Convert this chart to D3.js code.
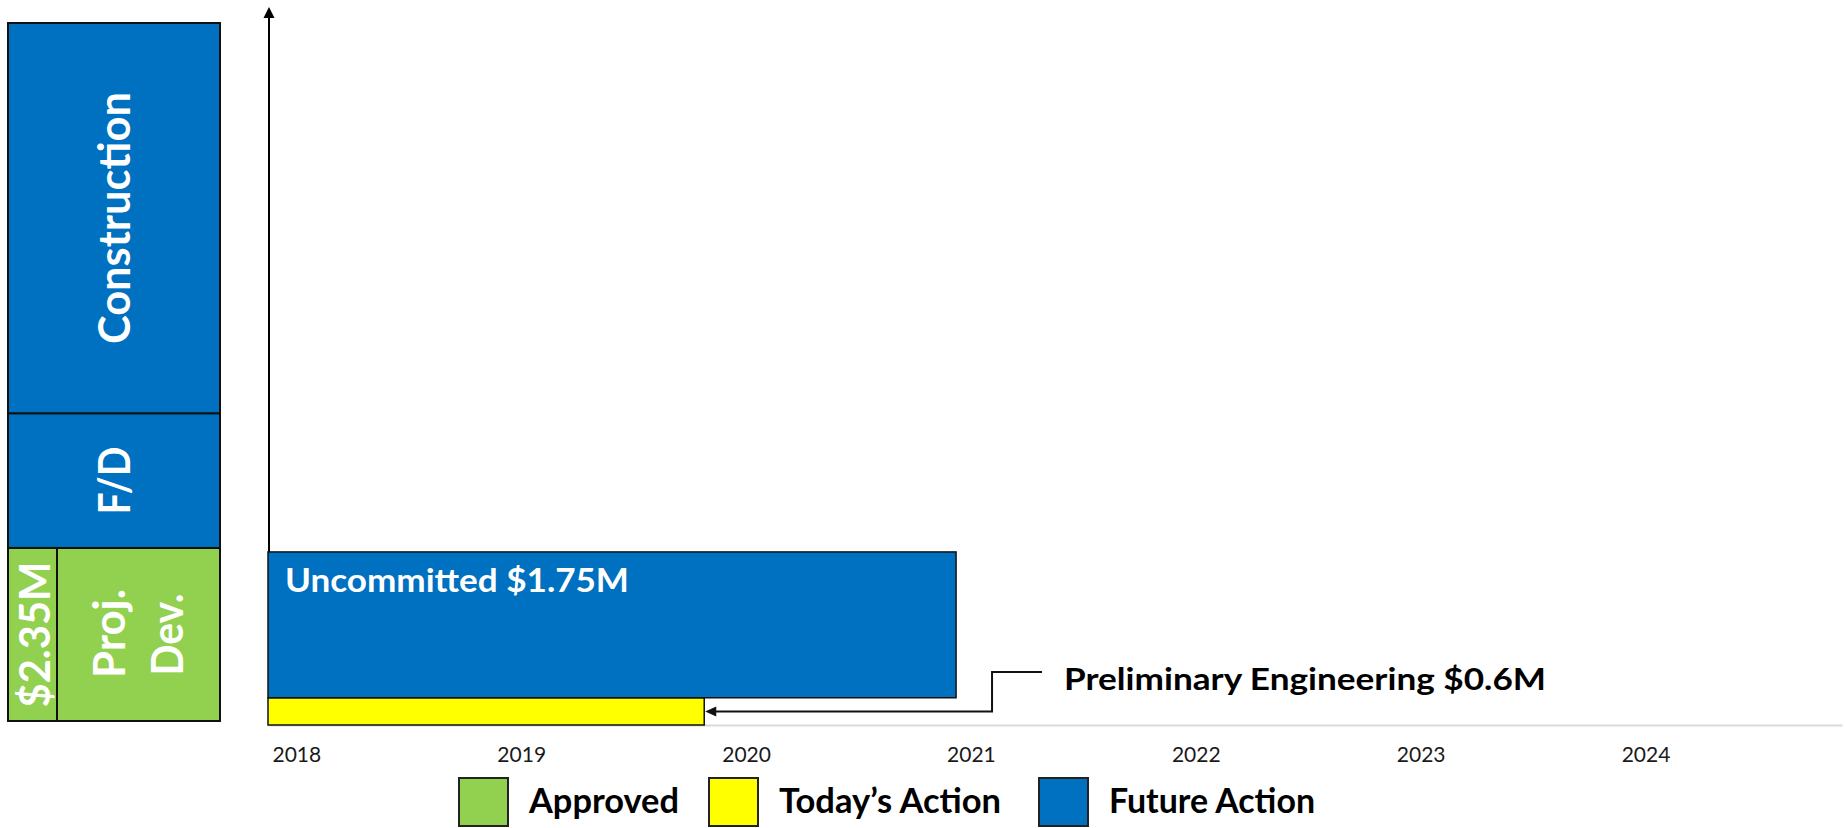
<!DOCTYPE html>
<html>
<head>
<meta charset="utf-8">
<script src="https://cdn.jsdelivr.net/npm/d3@7/dist/d3.min.js"></script>
<style>
  body { margin: 0; background: #fff; }
  svg { display: block; font-family: Lato, "Open Sans", sans-serif; }
</style>
</head>
<body>
<svg id="chart"></svg>
<script>
////////////////////////////// DATA //////////////////////////////

// left column: project phases, bottom to top (relative size in $M)
let phaseNames = ['Proj. Dev.', 'F/D', 'Construction'];
let phaseSizes = [2.35, 1.83, 5.30];
let phaseStatus = ['Approved', 'Future Action', 'Future Action'];
let approvedAmount = '$2.35M';

// timeline bars
let barStatus = ['Today\u2019s Action', 'Future Action'];
let barLabels = ['Preliminary Engineering $0.6M', 'Uncommitted $1.75M'];
let barStart = [2018, 2018];
let barEnd = [2019.94, 2021.06];
let barBottom = [0, 0.37];
let barTop = [0.37, 2.35];

let years = [2018, 2019, 2020, 2021, 2022, 2023, 2024];
let legendNames = ['Approved', 'Today\u2019s Action', 'Future Action'];

////////////////////////////// SETUP //////////////////////////////

let w = 1845;
let h = 828;

let svg = d3.select('#chart')
  .attr('width', w)
  .attr('height', h);

let color = d3.scaleOrdinal()
  .domain(legendNames)
  .range(['#92D050', '#FFFF00', '#0070C0']);

// text squeezed to the width of the original (narrow) face
function label(parent, str, size, width) {
  let t = parent.append('text')
    .text(str)
    .attr('font-size', size)
    .attr('font-weight', 700);
  if (width) {
    t.attr('textLength', width).attr('lengthAdjust', 'spacingAndGlyphs');
  }
  return t;
}

// vertical text, reading bottom to top, centred on (cx, cy)
function rotLabel(cx, cy, str, size, width) {
  let base = cx + size * 0.36;
  let g = svg.append('g')
    .attr('transform', `translate(${base}, ${cy}) rotate(-90)`);
  label(g, str, size, width)
    .attr('text-anchor', 'middle')
    .attr('fill', '#fff');
}

////////////////////////////// LEFT COLUMN //////////////////////////////

let colLeft = 8, colRight = 220, amtRight = 57;

let yLeft = d3.scaleLinear()
  .domain([0, d3.sum(phaseSizes)])
  .range([721, 23]);

let phases = phaseSizes.map((v, i) => ({
  name: phaseNames[i],
  status: phaseStatus[i],
  y0: d3.sum(phaseSizes.slice(0, i)),
  y1: d3.sum(phaseSizes.slice(0, i + 1)),
  x0: i === 0 ? amtRight : colLeft
}));

svg.selectAll('rect.phase')
  .data(phases)
  .enter()
  .append('rect')
  .attr('class', 'phase')
  .attr('x', (d) => d.x0)
  .attr('y', (d) => yLeft(d.y1))
  .attr('width', (d) => colRight - d.x0)
  .attr('height', (d) => yLeft(d.y0) - yLeft(d.y1))
  .attr('fill', (d) => color(d.status))
  .attr('stroke', '#111')
  .attr('stroke-width', 2);

// approved amount strip
svg.append('rect')
  .attr('x', colLeft)
  .attr('y', yLeft(phaseSizes[0]))
  .attr('width', amtRight - colLeft)
  .attr('height', yLeft(0) - yLeft(phaseSizes[0]))
  .attr('fill', color('Approved'))
  .attr('stroke', '#111')
  .attr('stroke-width', 2);

let midY = (d) => (yLeft(d.y0) + yLeft(d.y1)) / 2;
let midX = (d) => (d.x0 + colRight) / 2;

rotLabel(midX(phases[2]) + 1, midY(phases[2]), phases[2].name, 43, 252);
rotLabel(midX(phases[1]) + 1, midY(phases[1]), phases[1].name, 43, 68);
// "Proj. Dev." on two lines
let pd = phases[0].name.split(' ');
rotLabel(midX(phases[0]) - 29, midY(phases[0]) - 1, pd[0], 43, 89);
rotLabel(midX(phases[0]) + 29, midY(phases[0]), pd[1], 43, 82);
rotLabel((colLeft + amtRight) / 2 + 2, midY(phases[0]), approvedAmount, 42, 146);

////////////////////////////// TIMELINE //////////////////////////////

let yMax = 9.75;

let xScale = d3.scaleLinear()
  .domain([2018, 2025])
  .range([268, 1842]);

let yScale = d3.scaleLinear()
  .domain([0, yMax])
  .range([725, 7]);

// x axis: grey baseline + year labels
let xAxis = d3.axisBottom(xScale)
  .tickValues(years)
  .tickSize(0)
  .tickSizeOuter(0)
  .tickPadding(22)
  .tickFormat(d3.format('d'));

let xAxisGroup = svg.append('g')
  .attr('transform', `translate(0, ${yScale(0)})`)
  .call(xAxis);

xAxisGroup.select('.domain')
  .attr('stroke', '#d9d9d9')
  .attr('stroke-width', 2);

xAxisGroup.selectAll('text')
  .attr('text-anchor', 'start')
  .attr('dx', 4)
  .attr('font-family', 'Lato, "Open Sans", sans-serif')
  .attr('font-size', 21)
  .attr('fill', '#1a1a1a');

// y axis with arrow head
let axX = xScale(2018) + 1;
svg.append('line')
  .attr('x1', axX)
  .attr('x2', axX)
  .attr('y1', yScale(0))
  .attr('y2', yScale(yMax) + 8)
  .attr('stroke', '#000')
  .attr('stroke-width', 2);

svg.append('path')
  .attr('d', `M${axX},${yScale(yMax)} l-5.5,11 h11 z`)
  .attr('fill', '#000');

// bars
let bars = barStatus.map((s, i) => ({
  status: s, label: barLabels[i],
  x0: barStart[i], x1: barEnd[i], y0: barBottom[i], y1: barTop[i]
}));

svg.selectAll('rect.bar')
  .data(bars)
  .enter()
  .append('rect')
  .attr('class', 'bar')
  .attr('x', (d) => xScale(d.x0))
  .attr('y', (d) => yScale(d.y1))
  .attr('width', (d) => xScale(d.x1) - xScale(d.x0))
  .attr('height', (d) => yScale(d.y0) - yScale(d.y1))
  .attr('fill', (d) => color(d.status))
  .attr('stroke', '#111')
  .attr('stroke-width', 1.5);

// label inside the uncommitted bar
let future = bars[1];
label(svg, future.label, 33, 344)
  .attr('x', xScale(future.x0) + 17)
  .attr('y', yScale(future.y1) + 40)
  .attr('fill', '#fff');

// callout for today's action
let today = bars[0];
let tipX = xScale(today.x1) + 1;
let tipY = (yScale(today.y0) + yScale(today.y1)) / 2;
let elbowX = xScale(2021.22);
let topY = yScale(0.72);

svg.append('path')
  .attr('d', `M${elbowX + 50},${topY} H${elbowX} V${tipY} H${tipX + 10}`)
  .attr('fill', 'none')
  .attr('stroke', '#111')
  .attr('stroke-width', 2);

svg.append('path')
  .attr('d', `M${tipX},${tipY} l11,-5 v10 z`)
  .attr('fill', '#111');

label(svg, today.label, 31, 482)
  .attr('x', elbowX + 72)
  .attr('y', topY + 18)
  .attr('fill', '#000');

////////////////////////////// LEGEND //////////////////////////////

let legendX = [459, 709, 1039];
let legendW = [150, 222, 206];

let legend = svg.selectAll('g.legend')
  .data(legendNames)
  .enter()
  .append('g')
  .attr('class', 'legend')
  .attr('transform', (d, i) => `translate(${legendX[i]}, 778)`);

legend.append('rect')
  .attr('width', 49)
  .attr('height', 48)
  .attr('fill', (d) => color(d))
  .attr('stroke', '#222')
  .attr('stroke-width', 2);

legend.each(function(d, i) {
  label(d3.select(this), d, 35, legendW[i])
    .attr('x', 70)
    .attr('y', 35)
    .attr('fill', '#000');
});
</script>
</body>
</html>
